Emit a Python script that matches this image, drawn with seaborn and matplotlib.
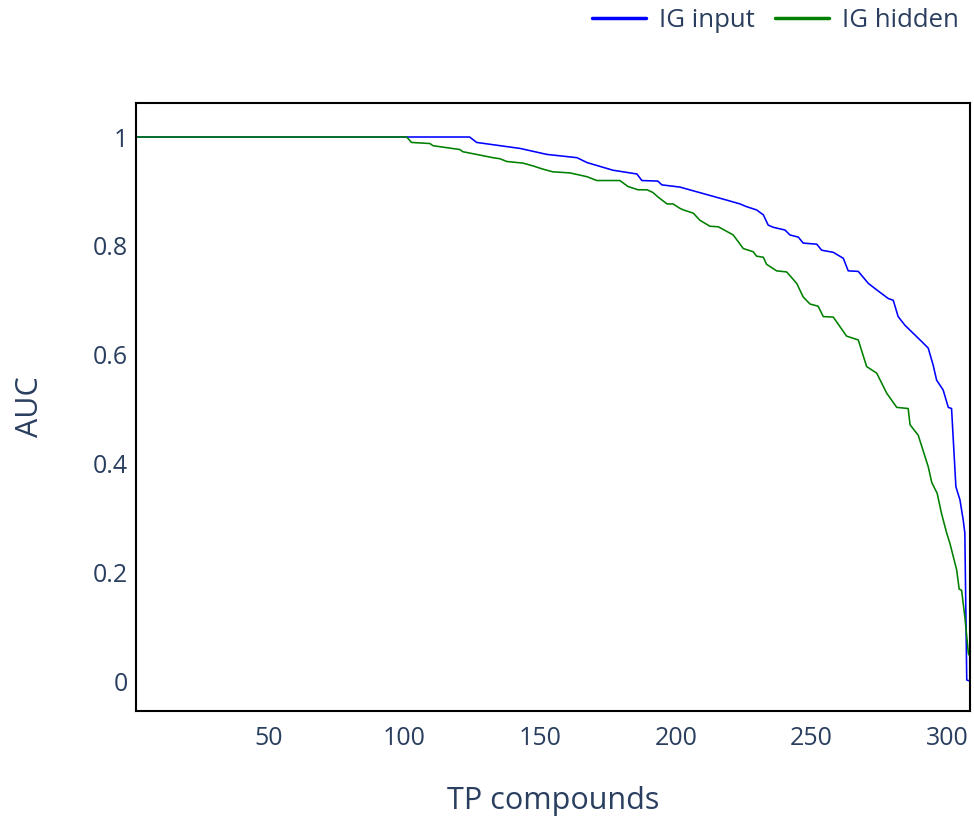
import matplotlib
matplotlib.use("Agg")
import matplotlib.pyplot as plt
import seaborn as sns
import pandas as pd
from matplotlib.lines import Line2D

# ---- data ----
ig_input_x = [1, 124, 126.6, 142.6, 152.5, 163.6, 167.3, 176.8, 185.7, 187.5, 193.4, 194.9, 201.5,
              218.8, 223.7, 226.1, 229.8, 232.3, 234.1, 236.0, 240.3, 242.1, 245.2, 247.0, 252.0,
              253.8, 258.1, 261.8, 263.6, 267.3, 271.0, 274.1, 278.4, 280.2, 282.0, 284.5, 287.6,
              290.7, 293.1, 294.9, 296.2, 298.6, 300.5, 301.7, 303.3, 304.8, 306.0, 306.6, 307.3, 308.5]
ig_input_y = [1, 1, 0.990, 0.979, 0.968, 0.962, 0.953, 0.939, 0.932, 0.920, 0.919, 0.912, 0.908,
              0.884, 0.877, 0.872, 0.866, 0.857, 0.838, 0.834, 0.829, 0.820, 0.816, 0.805, 0.803,
              0.792, 0.788, 0.777, 0.754, 0.753, 0.731, 0.719, 0.703, 0.700, 0.670, 0.654, 0.639,
              0.624, 0.612, 0.581, 0.553, 0.535, 0.503, 0.501, 0.357, 0.333, 0.296, 0.272, 0.002, 0.0]

ig_hidden_x = [1, 100.8, 102.6, 109.4, 110.5, 120.4, 121.5, 132.6, 135.2, 137.7, 143.7, 147.3, 151.0,
               154.7, 161.0, 167.3, 170.9, 179.4, 182.4, 186.1, 189.4, 191.6, 193.4, 196.8, 199.0,
               201.5, 202.8, 206.5, 208.9, 212.6, 215.7, 221.2, 224.9, 228.6, 229.8, 232.3, 233.5,
               237.2, 240.9, 244.6, 247.0, 249.5, 252.5, 254.4, 258.1, 263.0, 267.3, 270.4, 274.1,
               277.8, 281.5, 285.7, 286.4, 289.4, 293.1, 294.4, 296.4, 298.0, 299.9, 301.1, 303.6,
               304.5, 305.4, 306.6, 307.9, 308.5]
ig_hidden_y = [1, 1, 0.990, 0.988, 0.984, 0.977, 0.973, 0.962, 0.960, 0.955, 0.952, 0.947, 0.941,
               0.936, 0.934, 0.927, 0.920, 0.920, 0.909, 0.903, 0.903, 0.898, 0.890, 0.877, 0.877,
               0.869, 0.866, 0.860, 0.847, 0.836, 0.835, 0.820, 0.795, 0.789, 0.781, 0.779, 0.766,
               0.754, 0.752, 0.731, 0.706, 0.693, 0.689, 0.670, 0.669, 0.634, 0.627, 0.578, 0.566,
               0.529, 0.503, 0.501, 0.471, 0.452, 0.394, 0.365, 0.345, 0.308, 0.272, 0.253, 0.204,
               0.169, 0.167, 0.118, 0.051, 0.045]

series_names = ["IG input", "IG hidden"]
x_ticks = [50, 100, 150, 200, 250, 300]
y_ticks = [0, 0.2, 0.4, 0.6, 0.8, 1]
y_tick_labels = ["0", "0.2", "0.4", "0.6", "0.8", "1"]

df = pd.concat([
    pd.DataFrame({"TP compounds": ig_input_x, "AUC": ig_input_y, "series": series_names[0]}),
    pd.DataFrame({"TP compounds": ig_hidden_x, "AUC": ig_hidden_y, "series": series_names[1]}),
], ignore_index=True)

sns.set_style("white")
plt.rcParams['font.family'] = ['Open Sans', 'DejaVu Sans']
txt = "#2a3f5f"

fig = plt.figure(figsize=(9.74, 8.16), dpi=100)
ax = fig.add_axes([136/974, 1 - 711/816, (970 - 136)/974, (711 - 103)/816])

palette = {"IG input": "#0000ff", "IG hidden": "#008000"}
sns.lineplot(data=df, x="TP compounds", y="AUC", hue="series", palette=palette,
             sort=False, estimator=None, linewidth=1.15, ax=ax, legend=False)

ax.set_xlim(1, 308.5)
ax.set_ylim(-0.055, 1.0625)
ax.set_xticks(x_ticks)
ax.set_xticklabels([str(v) for v in x_ticks])
ax.set_yticks(y_ticks)
ax.set_yticklabels(y_tick_labels)
ax.tick_params(axis="both", length=0, labelsize=18, labelcolor=txt)
ax.tick_params(axis="x", pad=11)
ax.tick_params(axis="y", pad=6)
ax.set_xlabel("TP compounds", fontsize=22, color=txt, labelpad=25)
ax.set_ylabel("AUC", fontsize=22, color=txt, labelpad=34)
ax.grid(False)
for s in ax.spines.values():
    s.set_visible(True)
    s.set_color("black")
    s.set_linewidth(1.5)

handles = [Line2D([], [], color=palette[n], linewidth=2.5) for n in series_names]
fig.legend(handles, series_names, loc="upper right", bbox_to_anchor=(1.008, 1.018), ncol=2,
           frameon=False, fontsize=18.5, labelcolor=txt, handlelength=2.1, columnspacing=0.8,
           handletextpad=0.5)

fig.savefig("out.png", dpi=100, facecolor="white")
